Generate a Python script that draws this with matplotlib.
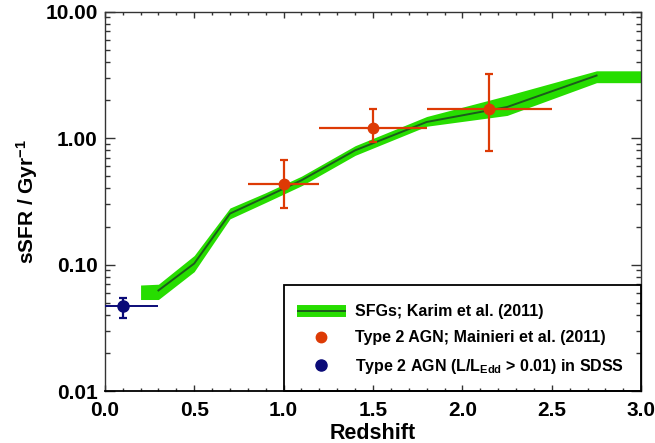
import matplotlib
matplotlib.use("Agg")
import matplotlib.pyplot as plt
from matplotlib.lines import Line2D
from matplotlib.patches import Rectangle
from matplotlib.legend_handler import HandlerTuple
from matplotlib.ticker import FixedLocator, FuncFormatter, MultipleLocator, LogLocator, NullFormatter

plt.rcParams['font.family'] = ['Liberation Sans', 'DejaVu Sans']
plt.rcParams['font.weight'] = 'bold'
plt.rcParams['mathtext.fontset'] = 'custom'
plt.rcParams['mathtext.rm'] = 'Liberation Sans:bold'
plt.rcParams['mathtext.it'] = 'Liberation Sans:bold'
plt.rcParams['mathtext.bf'] = 'Liberation Sans:bold'

# SFG band (Karim et al. 2011)
band_z = [0.2, 0.3, 0.5, 0.7, 0.9, 1.1, 1.4, 1.8, 2.25, 2.75, 3.0]
band_hi = [0.069, 0.070, 0.118, 0.28, 0.37, 0.50, 0.87, 1.48, 2.17, 3.40, 3.40]
band_lo = [0.053, 0.053, 0.088, 0.23, 0.31, 0.42, 0.73, 1.24, 1.51, 2.74, 2.74]
line_z = [0.3, 0.5, 0.7, 0.9, 1.1, 1.4, 1.8, 2.25, 2.75]
line_ssfr = [0.0625, 0.102, 0.253, 0.342, 0.464, 0.80, 1.34, 1.76, 3.12]

# Type 2 AGN; Mainieri et al. (2011)
agn_z = [1.0, 1.5, 2.15]
agn_ssfr = [0.43, 1.2, 1.70]
agn_ylo = [0.28, 0.93, 0.79]
agn_yhi = [0.67, 1.69, 3.20]
agn_zlo = [0.8, 1.2, 1.8]
agn_zhi = [1.2, 1.8, 2.5]

# Type 2 AGN in SDSS
sdss_z = [0.1]
sdss_ssfr = [0.047]
sdss_ylo = [0.038]
sdss_yhi = [0.0545]
sdss_zlo = [0.0]
sdss_zhi = [0.3]

y_ticks = [0.01, 0.1, 1.0, 10.0]
x_ticks = [0.0, 0.5, 1.0, 1.5, 2.0, 2.5, 3.0]

GREEN = '#27dd00'
DKGREEN = '#1c5c1c'
RED = '#dd3a05'
NAVY = '#0b0b78'

fig = plt.figure(figsize=(6.55, 4.43), dpi=100)
ax = fig.add_axes([0.160, 0.117, 0.819, 0.857])
ax.set_yscale('log')
ax.set_xlim(0, 3)
ax.set_ylim(0.01, 10)

ax.fill_between(band_z, band_lo, band_hi, color=GREEN, lw=0, zorder=2)
ax.plot(line_z, line_ssfr, color=DKGREEN, lw=1.4, zorder=3)

def asym(vals, lo, hi):
    return [[v - l for v, l in zip(vals, lo)], [h - v for v, h in zip(vals, hi)]]

ax.errorbar(agn_z, agn_ssfr, yerr=asym(agn_ssfr, agn_ylo, agn_yhi), fmt='none',
            ecolor=RED, elinewidth=1.6, capsize=3, capthick=1.6, zorder=4)
ax.errorbar(agn_z, agn_ssfr, xerr=asym(agn_z, agn_zlo, agn_zhi), fmt='none',
            ecolor=RED, elinewidth=1.6, capsize=0, zorder=4)
ax.plot(agn_z, agn_ssfr, 'o', color=RED, ms=7.5, mec=RED, zorder=5)

ax.errorbar(sdss_z, sdss_ssfr, yerr=asym(sdss_ssfr, sdss_ylo, sdss_yhi), fmt='none',
            ecolor=NAVY, elinewidth=1.6, capsize=3, capthick=1.6, zorder=4)
ax.errorbar(sdss_z, sdss_ssfr, xerr=asym(sdss_z, sdss_zlo, sdss_zhi), fmt='none',
            ecolor=NAVY, elinewidth=1.4, capsize=0, zorder=4)
ax.plot(sdss_z, sdss_ssfr, 'o', color=NAVY, ms=8, mec=NAVY, zorder=5)

# ticks
ax.xaxis.set_major_locator(FixedLocator(x_ticks))
ax.xaxis.set_minor_locator(MultipleLocator(0.1))
ax.xaxis.set_major_formatter(FuncFormatter(lambda v, p: f'{v:.1f}'))
ax.yaxis.set_major_locator(FixedLocator(y_ticks))
ax.yaxis.set_minor_locator(LogLocator(base=10, subs=range(2, 10)))
ax.yaxis.set_major_formatter(FuncFormatter(lambda v, p: f'{v:.2f}'))
ax.yaxis.set_minor_formatter(NullFormatter())
ax.tick_params(which='both', direction='in', top=True, right=True, color='#333333', width=1)
ax.tick_params(axis='x', which='major', length=4.5, labelsize=15, pad=7)
ax.tick_params(axis='x', which='minor', length=2.3)
ax.tick_params(axis='y', which='major', length=7.2, labelsize=15, pad=5)
ax.tick_params(axis='y', which='minor', length=3.6)
for lab in ax.get_xticklabels() + ax.get_yticklabels():
    lab.set_fontweight('bold')
for s in ax.spines.values():
    s.set_color('#333333')
    s.set_linewidth(1.0)
ax.spines['bottom'].set_color('black')
ax.spines['bottom'].set_linewidth(1.3)

ax.set_xlabel('Redshift', fontsize=15.5, fontweight='bold', labelpad=2)
ax.set_ylabel('sSFR / Gyr$^{-1}$', fontsize=15, fontweight='bold', labelpad=4)

# legend box
ax.add_patch(Rectangle((1/3, 0), 2/3, 0.279, transform=ax.transAxes, fill=False,
                       ec='black', lw=1.3, zorder=6, clip_on=False))
h_band = (Line2D([], [], color=GREEN, lw=8.6, solid_capstyle='butt'),
          Line2D([], [], color=DKGREEN, lw=1.4, solid_capstyle='butt'))
h_red = Line2D([], [], ls='none', marker='o', color=RED, ms=7.5)
h_blue = Line2D([], [], ls='none', marker='o', color=NAVY, ms=8)
leg = ax.legend([h_band, h_red, h_blue],
                ['SFGs; Karim et al. (2011)', 'Type 2 AGN; Mainieri et al. (2011)',
                 'Type 2 AGN (L/L$_{\\rm Edd}$ > 0.01) in SDSS'],
                handler_map={tuple: HandlerTuple(ndivide=1, pad=0)},
                loc='upper left', bbox_to_anchor=(0.358, 0.229), borderpad=0,
                borderaxespad=0, frameon=False, handlelength=3.06,
                handletextpad=0.56, labelspacing=0.70, numpoints=1,
                prop={'weight': 'bold', 'size': 11.5})
leg.set_zorder(7)

fig.savefig('out.png', dpi=100)
